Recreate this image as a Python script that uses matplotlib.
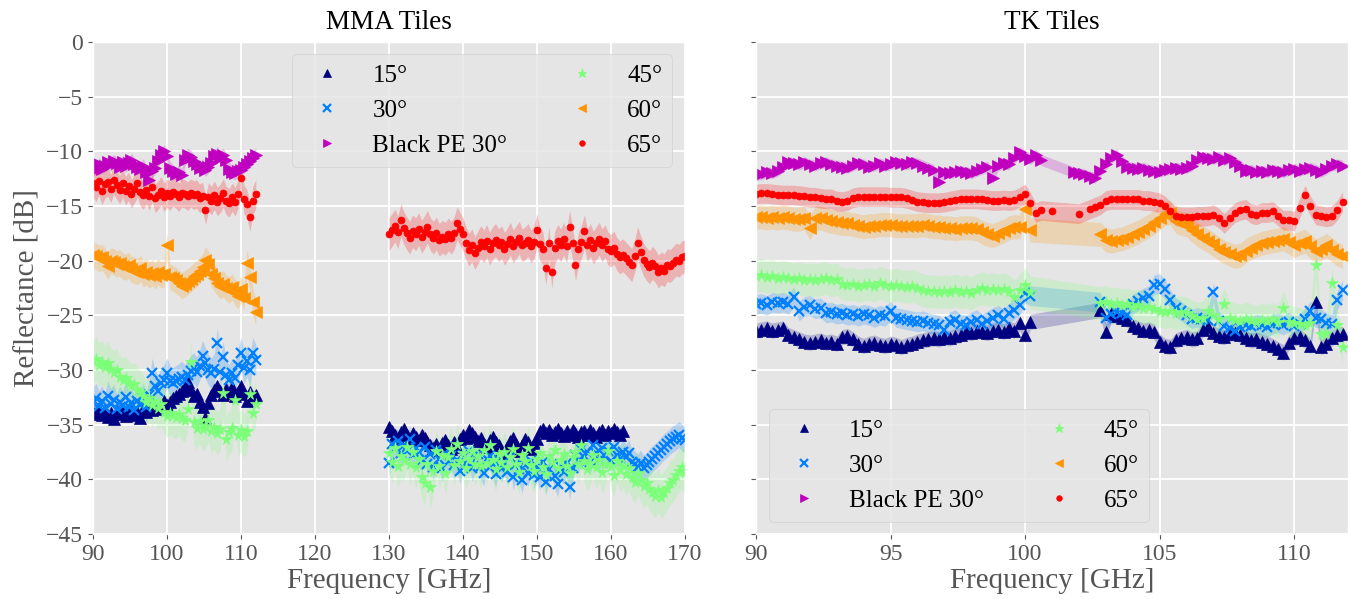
import matplotlib
matplotlib.use("Agg")
import matplotlib.pyplot as plt
import numpy as np

# ---- MMA tiles, band 1 (90-112 GHz, 0.4 GHz step) ----
mma1_15 = [-33.8, -34.0, -33.6, -34.1, -33.7, -34.3, -33.9, -34.5, -33.8, -34.0, -33.6, -34.2, -33.9, -33.7,
           -34.1, -33.8, -34.4, -33.6, -33.8, -33.5, -33.7, -33.4, -33.6, -33.3, -32.8, -33.2, -32.9, -32.6,
           -32.4, -32.2, -31.9, -31.6, -31.1, -31.8, -32.4, -32.2, -32.9, -33.4, -34.4, -33.0, -32.3, -31.8,
           -31.5, -31.9, -32.3, -31.7, -32.1, -31.6, -32.4, -32.0, -31.5, -32.2, -32.8, -32.0, -32.6, -32.3]
mma1_30 = [-33.0, -32.6, -33.3, -32.8, -33.5, -32.4, -33.1, -32.7, -33.6, -32.9, -33.3, -32.5, -33.4, -33.0,
           -33.7, -32.8, -33.2, -32.6, -33.4, -32.3, -30.3, -31.5, -31.9, -31.2, -30.9, -30.3, -31.0, -31.2,
           -31.0, -30.8, -30.6, -30.9, -30.5, -30.1, -29.8, -30.2, -29.6, -28.7, -29.4, -30.0, -30.3, -29.9,
           -27.5, -30.2, -28.8, -30.5, -30.9, -30.3, -30.7, -29.5, -28.4, -29.8, -29.2, -30.0, -28.4, -29.1]
mma1_pe = [-11.8, -11.5, -11.2, -11.6, -11.3, -11.0, -11.2, -10.9, -11.1, -11.4, -11.0, -11.3, -11.1, -10.8,
           -11.2, -11.4, -11.6, -11.3, -11.9, -12.6, -11.8, -11.5, -10.9, -10.3, -10.0, -10.4, -11.5, -11.8,
           -12.1, -11.9, -12.2, -10.8, -10.3, -10.5, -10.9, -11.2, -11.5, -11.3, -11.7, -11.4, -11.1, -10.4,
           -10.2, -10.6, -10.3, -10.8, -11.6, -11.9, -12.0, -11.8, -11.7, -11.4, -11.2, -10.9, -10.6, -10.3]
mma1_45 = [-29.2, -29.0, -29.5, -29.3, -29.7, -29.4, -29.9, -30.2, -30.0, -30.6, -30.9, -30.7, -31.2, -31.4,
           -31.3, -31.8, -32.0, -32.4, -32.9, -32.6, -33.2, -32.8, -33.5, -33.1, -33.8, -34.2, -33.9, -34.1,
           -34.3, -34.0, -34.4, -34.6, -33.6, -29.3, -34.8, -35.3, -34.7, -35.4, -35.1, -34.6, -35.6, -35.2,
           -35.8, -35.4, -32.1, -36.3, -35.7, -35.3, -32.7, -35.9, -35.5, -36.0, -35.6, -32.2, -33.9, -33.1]
mma1_60 = [-19.5, -19.6, -19.8, -19.7, -20.0, -20.5, -20.0, -20.1, -20.3, -20.2, -20.5, -20.6, -20.4, -20.8,
           -20.9, -21.0, -20.7, -21.2, -21.0, -21.3, -21.1, -21.4, -21.0, -21.3, -21.2, -18.6, -21.5, -21.6,
           -21.8, -22.0, -22.3, -22.1, -21.9, -21.7, -21.4, -21.2, -20.9, -20.6, -19.9, -20.3, -21.2, -21.6,
           -22.0, -22.3, -22.1, -22.5, -22.7, -22.4, -22.9, -23.2, -22.6, -23.4, -20.2, -21.5, -23.8, -24.7]
mma1_65 = [-12.9, -13.3, -12.7, -13.6, -13.0, -12.8, -13.4, -12.6, -13.1, -13.5, -12.9, -13.6, -13.2, -13.9,
           -13.4, -12.9, -13.7, -14.0, -13.5, -14.1, -13.3, -14.3, -14.0, -13.6, -14.2, -13.8, -14.1, -13.7,
           -13.9, -14.2, -13.8, -13.9, -14.1, -13.8, -14.0, -13.9, -14.3, -14.1, -15.4, -14.2, -14.5, -14.0,
           -14.6, -14.3, -13.8, -14.5, -14.7, -14.2, -14.6, -13.9, -12.4, -14.4, -14.8, -16.0, -14.5, -13.9]

# ---- MMA tiles, band 2 (130-170 GHz, 0.4 GHz step; 15 deg stops at 161.6) ----
mma2_15 = [-35.2, -35.6, -35.9, -36.2, -35.7, -35.4, -35.9, -36.3, -35.8, -36.1,
           -36.4, -35.9, -36.2, -36.6, -36.9, -37.1, -36.8, -37.3, -36.7, -36.4,
           -36.9, -37.2, -36.6, -37.0, -36.3, -35.9, -36.2, -35.5, -35.8, -36.1,
           -36.5, -36.2, -36.8, -37.0, -36.4, -36.1, -36.6, -36.9, -37.3, -37.6,
           -37.0, -36.5, -36.2, -36.8, -37.4, -36.9, -36.3, -36.6, -37.2, -36.7,
           -36.3, -35.6, -35.4, -35.8, -35.5, -35.9, -35.7, -35.4, -35.8, -36.0,
           -35.6, -35.9, -35.5, -35.8, -36.1, -35.7, -35.6, -35.9, -35.5, -35.8,
           -36.1, -35.7, -35.5, -35.9, -35.6, -35.8, -35.4, -35.7, -35.9, -35.6]
mma2_30 = [-38.5, -36.8, -37.2, -36.5, -37.6, -36.9, -37.4, -36.3, -37.8, -37.1,
           -37.5, -38.2, -37.0, -38.6, -37.7, -38.9, -37.3, -38.1, -39.0, -37.6,
           -38.4, -37.9, -38.7, -38.2, -39.2, -37.8, -38.5, -37.4, -39.0, -38.3,
           -37.7, -38.8, -39.4, -38.1, -37.9, -38.6, -39.5, -38.2, -39.0, -38.4,
           -39.3, -38.0, -39.8, -38.6, -39.1, -40.1, -38.7, -39.4, -38.3, -39.6,
           -38.9, -39.8, -38.4, -40.2, -39.1, -38.6, -39.7, -40.4, -38.9, -39.3,
           -38.5, -40.7, -39.0, -37.8, -38.3, -37.2, -38.0, -37.5, -38.4, -36.9,
           -37.6, -38.2, -37.1, -37.9, -37.4, -38.3, -37.0, -37.8, -38.1, -37.5,
           -38.0, -37.6, -38.4, -38.6, -38.9, -38.5, -39.0, -38.7, -38.4, -38.1,
           -37.9, -37.6, -37.3, -37.0, -36.8, -36.5, -36.3, -36.1, -35.9, -36.2, -36.4]
mma2_45 = [-37.6, -38.4, -37.1, -38.8, -37.9, -38.2, -37.0, -38.6, -37.5, -38.9,
           -38.1, -39.8, -40.3, -38.6, -40.7, -39.2, -37.4, -38.8, -37.8, -39.4,
           -38.0, -37.2, -38.7, -36.8, -38.3, -37.6, -39.0, -38.1, -37.4, -38.6,
           -37.9, -38.8, -37.3, -38.5, -36.9, -38.2, -39.1, -37.7, -38.4, -37.5,
           -38.9, -38.0, -37.2, -38.6, -39.3, -37.8, -38.3, -37.1, -38.7, -39.2,
           -38.1, -37.6, -38.9, -39.5, -37.9, -38.4, -37.3, -39.0, -38.2, -37.7,
           -38.8, -39.4, -38.0, -37.5, -38.6, -36.9, -38.3, -39.1, -38.5, -37.8,
           -38.9, -38.2, -39.3, -38.6, -37.4, -38.8, -39.6, -38.3, -39.1, -38.7,
           -39.5, -39.0, -39.8, -40.2, -39.4, -40.1, -40.6, -40.3, -40.9, -41.2,
           -41.5, -41.0, -41.6, -41.2, -40.8, -40.3, -40.1, -39.6, -39.2, -38.9, -39.3]
mma2_65 = [-17.6, -17.2, -16.8, -17.4, -16.3, -17.0, -17.5, -17.9, -17.3, -17.6,
           -17.1, -17.8, -17.4, -16.9, -17.6, -17.9, -17.5, -18.1, -17.8, -18.0,
           -17.6, -17.9, -17.5, -16.6, -17.1, -17.6, -18.4, -19.0, -18.6, -19.3,
           -18.8, -18.3, -18.7, -18.2, -18.9, -18.4, -18.1, -18.6, -18.3, -18.9,
           -18.5, -18.0, -18.7, -18.3, -17.9, -18.6, -18.4, -18.1, -18.7, -18.3,
           -17.2, -18.5, -18.9, -20.7, -18.4, -21.0, -18.8, -18.2, -18.6, -18.0,
           -18.7, -16.9, -18.4, -20.4, -18.9, -18.3, -17.3, -18.6, -18.1, -18.8,
           -18.4, -18.0, -18.6, -18.2, -18.9, -19.1, -18.8, -19.4, -19.7, -19.5,
           -19.8, -20.1, -20.4, -19.6, -18.4, -19.2, -19.9, -20.3, -20.6, -20.2,
           -20.5, -21.0, -20.7, -20.9, -20.4, -20.5, -20.2, -19.9, -20.0, -19.7, -19.6]

# ---- TK tiles: part A 90.0-100.2, part B 102.8-111.8 (0.2 GHz step) ----
tka_15 = [-26.4, -26.3, -26.2, -26.4, -26.3, -26.2, -26.8, -27.0, -27.2, -27.4, -27.5, -27.4, -27.3,
          -27.5, -27.4, -27.6, -27.0, -26.9, -27.2, -27.6, -27.8, -27.6, -27.5, -27.7, -27.8, -27.6,
          -27.7, -27.9, -27.7, -27.6, -27.4, -27.3, -27.2, -27.1, -27.2, -27.0, -27.1, -26.9, -26.8,
          -26.5, -26.6, -26.4, -26.5, -26.6, -26.4, -26.3, -26.5, -26.2, -26.4, -25.7, -26.8, -25.6]
tkb_15 = [-24.5, -26.5, -24.9, -25.1, -25.2, -25.4, -26.0, -26.2, -26.4, -26.3, -26.5, -27.4, -27.8,
          -27.9, -27.3, -27.1, -27.0, -27.2, -27.1, -26.3, -26.1, -26.6, -26.9, -27.0, -26.7, -26.6,
          -26.8, -27.1, -27.3, -27.2, -27.4, -27.6, -27.8, -28.1, -28.4, -27.5, -27.1, -27.0, -27.3,
          -27.8, -23.8, -27.9, -27.6, -27.1, -26.8, -26.7]
tka_30 = [-24.0, -23.9, -24.1, -23.8, -23.9, -23.8, -24.0, -23.3, -24.6, -24.2, -24.1, -24.4, -24.3,
          -24.8, -24.7, -24.9, -24.8, -25.0, -24.9, -25.1, -24.9, -25.0, -25.2, -25.0, -25.1, -24.6,
          -25.2, -25.3, -25.4, -25.5, -25.6, -25.5, -25.7, -25.8, -25.9, -26.3, -25.6, -25.4, -25.8,
          -25.9, -25.6, -25.4, -25.8, -25.5, -25.2, -25.0, -25.3, -24.8, -24.5, -24.1, -23.0, -23.2]
tkb_30 = [-23.8, -25.2, -24.9, -24.7, -24.8, -25.0, -24.0, -23.7, -23.4, -23.2, -22.2, -22.1, -22.6,
          -23.6, -24.3, -24.6, -25.0, -25.3, -25.2, -25.3, -25.4, -22.9, -25.5, -26.0, -26.2, -26.4,
          -26.1, -25.9, -26.0, -25.8, -25.9, -26.1, -25.8, -25.7, -25.9, -25.6, -26.0, -25.8, -25.3,
          -24.6, -25.2, -25.3, -25.7, -25.8, -23.6, -22.7]
tka_pe = [-12.2, -12.1, -11.9, -12.0, -11.8, -11.4, -11.0, -11.1, -11.2, -11.0, -11.2, -11.3, -11.1,
          -11.0, -11.2, -11.3, -11.4, -11.5, -11.3, -11.1, -11.2, -11.4, -11.3, -11.1, -11.3, -11.2,
          -11.0, -11.1, -11.2, -11.0, -11.1, -11.3, -11.5, -11.7, -12.8, -11.9, -12.0, -11.9, -11.8,
          -11.9, -12.0, -11.8, -11.6, -11.4, -12.4, -11.3, -11.1, -11.2, -10.6, -10.1, -10.4, -10.7]
gap_pe_f = [100.4, 100.6, 101.8, 102.0, 102.2, 102.4, 102.6]
gap_pe = [-10.3, -10.8, -11.9, -12.0, -12.1, -12.3, -12.4]
tkb_pe = [-11.8, -11.2, -10.6, -10.3, -10.9, -11.4, -11.5, -11.6, -11.5, -11.7, -11.8, -11.9, -11.7,
          -11.6, -11.5, -11.6, -11.5, -11.3, -10.8, -10.5, -10.6, -10.7, -10.5, -10.8, -10.6, -11.0,
          -11.3, -11.8, -11.7, -11.9, -11.8, -11.9, -11.7, -11.8, -11.9, -11.7, -11.6, -11.8, -11.6,
          -11.5, -11.7, -11.9, -11.6, -11.3, -11.2, -11.3]
tka_45 = [-21.4, -21.3, -21.5, -21.4, -21.6, -21.5, -21.6, -21.7, -21.6, -21.8, -21.7, -21.8, -21.7,
          -21.6, -21.8, -21.7, -22.1, -22.2, -22.1, -22.3, -22.2, -22.1, -22.3, -22.0, -22.2, -22.3,
          -22.2, -22.3, -22.4, -22.3, -22.5, -22.7, -22.8, -22.8, -22.9, -22.8, -22.9, -22.7, -22.9,
          -22.8, -23.0, -22.7, -22.5, -22.7, -22.6, -22.7, -22.6, -22.8, -23.3, -22.7, -22.2, -22.9]
tkb_45 = [-23.9, -23.8, -24.0, -23.9, -24.1, -24.0, -24.2, -24.1, -24.3, -24.2, -24.4, -24.6, -24.7,
          -24.6, -24.8, -24.7, -24.8, -25.1, -25.3, -25.2, -24.6, -25.0, -25.3, -24.0, -25.2, -25.4,
          -25.5, -25.3, -25.4, -25.6, -25.4, -25.5, -25.3, -25.6, -24.3, -25.6, -25.7, -25.8, -25.9,
          -25.7, -20.4, -26.7, -26.6, -22.0, -25.9, -27.9]
tka_60 = [-16.0, -16.0, -16.1, -16.0, -16.1, -16.0, -16.1, -16.2, -16.2, -16.1, -17.0, -16.1, -16.1,
          -16.3, -16.4, -16.5, -16.6, -16.6, -16.7, -16.8, -16.9, -16.8, -16.8, -16.7, -16.7, -16.7,
          -16.8, -16.8, -16.8, -16.8, -16.8, -16.7, -16.8, -16.9, -16.9, -17.0, -17.0, -17.1, -17.0,
          -17.0, -17.0, -17.1, -17.4, -17.6, -17.7, -17.5, -17.3, -17.0, -16.9, -16.9, -15.3, -17.2]
tkb_60 = [-17.6, -18.1, -18.2, -18.1, -18.0, -17.8, -17.6, -17.4, -17.1, -16.8, -16.5, -16.1, -15.7,
          -15.6, -16.4, -16.6, -16.7, -17.2, -17.6, -17.9, -18.2, -18.5, -18.9, -19.2, -19.4, -19.6,
          -19.5, -19.1, -18.8, -18.6, -18.4, -18.3, -18.2, -18.1, -18.0, -18.3, -18.6, -18.4, -18.2,
          -18.7, -19.1, -18.9, -18.6, -19.0, -19.4, -19.6]
tka_65 = [-13.9, -13.85, -13.85, -13.9, -13.95, -14.0, -14.0, -14.0, -14.05, -14.1, -14.2, -14.2, -14.3,
          -14.35, -14.35, -14.55, -14.6, -14.5, -14.25, -14.15, -14.15, -14.15, -14.15, -14.15, -14.15,
          -14.2, -14.2, -14.2, -14.3, -14.45, -14.6, -14.65, -14.7, -14.7, -14.7, -14.65, -14.55, -14.45,
          -14.35, -14.35, -14.35, -14.35, -14.4, -14.45, -14.5, -14.5, -14.45, -14.5, -14.45, -14.2,
          -13.9, -14.7]
gap_65_f = [100.4, 100.6, 101.0, 102.0, 102.4, 102.6]
gap_65 = [-15.6, -15.4, -15.5, -15.7, -15.3, -15.1]
tkb_65 = [-14.9, -14.5, -14.4, -14.4, -14.4, -14.4, -14.4, -14.4, -14.5, -14.5, -14.6, -14.7, -15.0,
          -15.5, -15.9, -16.0, -16.0, -16.0, -15.95, -15.95, -15.9, -15.8, -16.1, -16.6, -16.1, -15.6,
          -15.4, -15.3, -15.7, -15.8, -15.6, -15.6, -15.5, -15.9, -16.3, -16.3, -16.4, -15.2, -14.0,
          -15.0, -15.8, -15.9, -16.0, -15.9, -15.4, -14.6]

labels = ["15°", "30°", "Black PE 30°", "45°", "60°", "65°"]
colors = ["#000080", "#0080ff", "#bf00bf", "#7cff79", "#ff9400", "#ff0000"]
markers = ["^", "x", ">", "*", "<", "o"]
msizes = [8, 7, 8, 8.5, 8, 5]
# half width of the shaded band (dB) for [MMA band 1, MMA band 2, TK]
bands = {"15°": [0.6, 0.6, 0.7], "30°": [1.4, 1.2, 0.9], "Black PE 30°": [0.6, 0.6, 0.5],
         "45°": [2.0, 2.0, 1.5], "60°": [1.2, 1.2, 1.1], "65°": [1.3, 1.5, 0.9]}


def grid(start, stop, vals):
    return np.linspace(start, stop, len(vals))


def draw(ax, f, v, i, half, label=None):
    f = np.asarray(f)
    v = np.asarray(v)
    ax.fill_between(f, v - half, v + half, color=colors[i], alpha=0.22, lw=0)
    ax.plot(f, v, ls="none", marker=markers[i], ms=msizes[i], color=colors[i],
            mew=1.6 if markers[i] == "x" else 0.5, label=label)


plt.style.use("ggplot")
plt.rcParams["font.family"] = ["Liberation Serif", "DejaVu Serif"]
plt.rcParams["grid.linewidth"] = 1.3

fig = plt.figure(figsize=(13.5, 5.99), dpi=100)
ax1 = fig.add_axes([0.0689, 0.1085, 0.4385, 0.8214])
ax2 = fig.add_axes([0.5600, 0.1085, 0.4385, 0.8214], sharey=ax1)

# MMA tiles
mma1 = [mma1_15, mma1_30, mma1_pe, mma1_45, mma1_60, mma1_65]
for i, lab in enumerate(labels):
    vals = mma1[i]
    draw(ax1, grid(90, 112, vals), vals, i, bands[lab][0], label=lab)
mma2 = {0: (130, 161.6, mma2_15), 1: (130, 170, mma2_30), 3: (130, 170, mma2_45), 5: (130, 170, mma2_65)}
for i, (a, b, vals) in mma2.items():
    draw(ax1, grid(a, b, vals), vals, i, bands[labels[i]][1])

# TK tiles
tka = [tka_15, tka_30, tka_pe, tka_45, tka_60, tka_65]
tkb = [tkb_15, tkb_30, tkb_pe, tkb_45, tkb_60, tkb_65]
gaps = {2: (gap_pe_f, gap_pe), 5: (gap_65_f, gap_65)}
for i, lab in enumerate(labels):
    gf, gv = gaps.get(i, ([], []))
    f = np.concatenate([grid(90, 100.2, tka[i]), gf, grid(102.8, 111.8, tkb[i])])
    v = np.concatenate([tka[i], gv, tkb[i]])
    draw(ax2, f, v, i, bands[lab][2], label=lab)

ax1.set_xlim(90, 170)
ax1.set_xticks(np.arange(90, 171, 10))
ax2.set_xlim(90, 112)
ax2.set_xticks(np.arange(90, 111, 5))
ax1.set_ylim(-45, 0)
ax1.set_yticks(np.arange(-45, 1, 5))

for ax in (ax1, ax2):
    ax.tick_params(labelsize=17, colors="#555555")
    ax.set_xlabel("Frequency [GHz]", fontsize=21, color="#555555", labelpad=2)
    ax.grid(True, color="white")
ax2.tick_params(labelleft=False)
ax1.set_ylabel("Reflectance [dB]", fontsize=21, color="#555555")
ax1.set_title("MMA Tiles", fontsize=19.5, pad=9)
ax2.set_title("TK Tiles", fontsize=19.5, pad=9)

ax1.legend(loc="upper right", ncol=2, fontsize=18, markerscale=0.8)
ax2.legend(loc="lower left", ncol=2, fontsize=18, markerscale=0.8)

fig.savefig("out.png", dpi=100)
plt.close(fig)
